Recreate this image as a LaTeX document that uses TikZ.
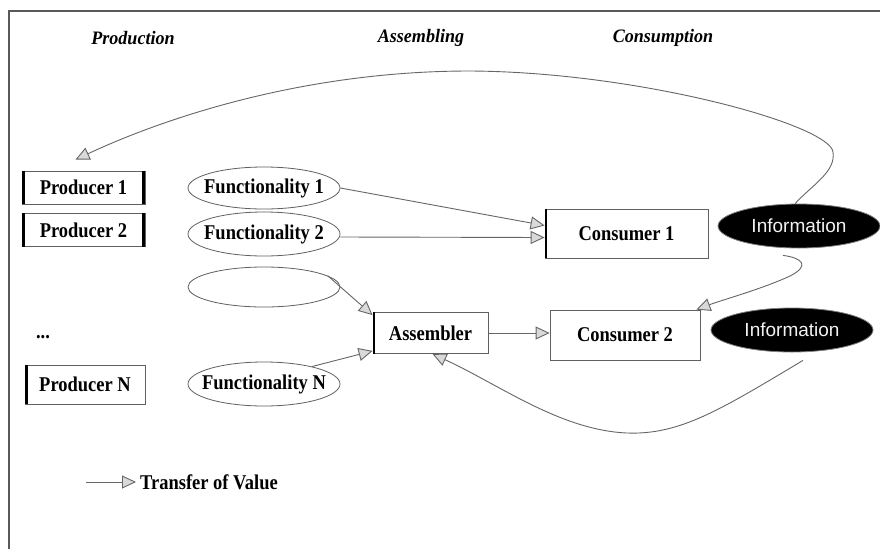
\documentclass[tikz,border=0pt]{standalone}
\usepackage{fontspec}
\setmainfont[FakeStretch=0.88]{Liberation Serif}
\newfontfamily\hfont[FakeStretch=0.95]{Liberation Serif}
\newfontfamily\infofont{Liberation Sans}
\usetikzlibrary{arrows.meta,shapes.geometric}
\begin{document}
\begin{tikzpicture}[x=1pt,y=-1pt,
  line/.style={draw=gray!80!black, line width=0.9pt},
  val/.style={line, -{Triangle[length=14pt,width=13pt,fill=gray!30]}},
  txt/.style={font=\bfseries\fontsize{21}{23}\selectfont},
  box/.style={rectangle, draw=gray!75!black, line width=0.8pt, inner sep=0pt, txt},
  func/.style={ellipse, draw=gray!75!black, line width=0.8pt, minimum width=152pt, minimum height=42pt, inner xsep=-20pt, inner ysep=0pt, txt},
  info/.style={ellipse, fill=black, draw=gray, line width=0.8pt, minimum width=162pt, minimum height=44pt, inner xsep=-20pt, inner ysep=0pt, text=white!90!gray, font=\infofont\fontsize{19}{21}\selectfont},
  head/.style={font=\hfont\bfseries\itshape\fontsize{19}{21}\selectfont},
  bar/.style={draw=black, line width=2.6pt},
  frame/.style={draw=gray!70!black, line width=1.5pt}
]
\useasboundingbox (0,0) rectangle (880,549);
\fill[white] (0,0) rectangle (880,549);
% frame (top and left only)
\coordinate (ftl) at (9,11);
\coordinate (ftr) at (880,11);
\coordinate (fbl) at (9,549);
\draw[frame] (ftr) -- (ftl) -- (fbl);

% headers
\node[head] (h1) at (133,38) {Production};
\node[head] (h2) at (421,38) {Assembling};
\node[head] (h3) at (663,38) {Consumption};

% producers
\node[box, minimum width=123pt, minimum height=33pt] (p1) at (83.5,187.5) {Producer 1};
\node[box, minimum width=123pt, minimum height=33pt] (p2) at (83.5,230) {Producer 2};
\node[box, minimum width=120pt, minimum height=39pt] (pn) at (85,384.5) {Producer N};
\node[txt] (dots) at (43,337) {...};
\draw[bar] ([xshift=2pt]p1.north west) -- ([xshift=2pt]p1.south west);
\draw[bar] ([xshift=-2pt]p1.north east) -- ([xshift=-2pt]p1.south east);
\draw[bar] ([xshift=2pt]p2.north west) -- ([xshift=2pt]p2.south west);
\draw[bar] ([xshift=-2pt]p2.north east) -- ([xshift=-2pt]p2.south east);
\draw[bar] ([xshift=2pt]pn.north west) -- ([xshift=2pt]pn.south west);

% functionalities
\node[func] (f1) at (264,188) {Functionality 1};
\node[func, minimum height=44pt] (f2) at (264,234) {Functionality 2};
\node[func, minimum height=40pt] (f3) at (264,287) {};
\node[func, minimum height=44pt] (fn) at (264,384) {Functionality N};

% assembler and consumers
\node[box, minimum width=115pt, minimum height=41pt] (as) at (430.5,333) {Assembler};
\draw[bar] ([xshift=1.5pt]as.north west) -- ([xshift=1.5pt]as.south west);
\node[box, minimum width=163pt, minimum height=49pt] (c1) at (626.5,233.5) {Consumer 1};
\draw[bar] ([xshift=1.5pt]c1.north west) -- ([xshift=1.5pt]c1.south west);
\node[box, minimum width=150pt, minimum height=50pt] (c2) at (625,335) {Consumer 2};

% information
\node[info] (i1) at (799,226) {Information};
\node[info] (i2) at (792,330) {Information};

% transfer-of-value arrows
\draw[val] (f1.east) -- ([yshift=8pt]c1.west);
\draw[val] ([yshift=-3pt]f2.east) -- ([yshift=-4pt]c1.west);
\draw[val] (f3.10) -- ([yshift=-3pt]as.north west);
\draw[val] (fn.20) -- ([yshift=3pt]as.south west);
\draw[val] (as.east) -- (c2.west |- as.east);

% feedback curves
\coordinate (e1) at ([shift={(-8pt,11pt)}]p1.north);
\draw[val] (i1.100) .. controls (812,185) and (836,172) .. (833,152)
  .. controls (830,125) and (640,72) .. (470,71)
  .. controls (300,71) and (160,120) .. (e1);
\coordinate (s2) at ([shift={(-16pt,-7pt)}]i1.south);
\draw[val] (s2) .. controls (803,258) and (810,266) .. (790,276)
  .. controls (762,289) and (722,300) .. ([xshift=-4pt]c2.north east);
\coordinate (s3) at ([shift={(11pt,-8pt)}]i2.south);
\draw[val] (s3) .. controls (720,410) and (680,435) .. (627,433)
  .. controls (560,430) and (500,385) .. ([xshift=2pt]as.south);

% legend
\coordinate (l0) at (86,482);
\node[txt, anchor=west, inner sep=0pt] (lt) at (140,482) {Transfer of Value};
\draw[val] (l0) -- ([xshift=-4pt]lt.west);
\end{tikzpicture}
\end{document}
